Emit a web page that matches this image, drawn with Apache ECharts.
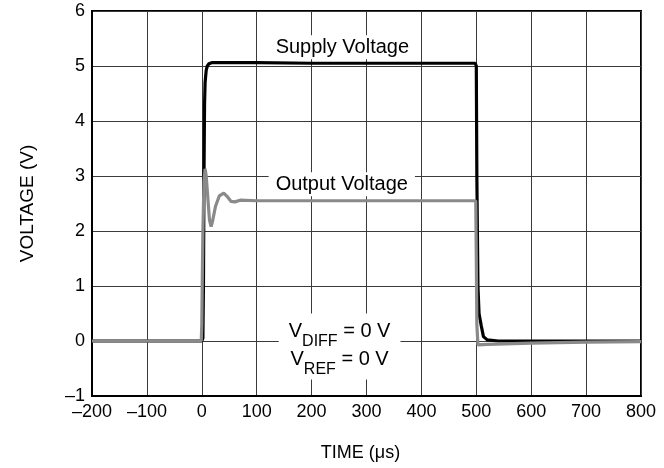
<!DOCTYPE html>
<html>
<head>
<meta charset="utf-8">
<script src="https://cdn.jsdelivr.net/npm/echarts@6/dist/echarts.min.js"></script>
<style>html,body{margin:0;padding:0;background:#fff}#c{width:664px;height:468px}</style>
</head>
<body>
<div id="c"></div>
<script>
// Time (µs) and voltage (V) samples
const supplyTime = [-200, 0, 2, 3, 4, 5, 6, 8, 10, 13, 18, 30, 100, 200, 300, 400, 498, 500, 501, 503, 505, 509, 513, 520, 540, 600, 700, 800];
const supplyVolt = [0, 0, 0.05, 1.0, 3.0, 4.3, 4.7, 4.92, 5.0, 5.04, 5.06, 5.06, 5.06, 5.05, 5.05, 5.05, 5.05, 5.0, 3.0, 1.0, 0.5, 0.28, 0.08, 0.02, 0, 0, 0, 0];
const outputTime = [-200, -1, 0, 1, 2, 4, 6, 8, 11, 14, 17, 20, 25, 32, 40, 46, 53, 60, 70, 100, 200, 300, 400, 499, 500, 501, 503, 505, 520, 600, 700, 800];
const outputVolt = [0, 0, 0.3, 1.2, 2.0, 2.9, 3.13, 3.0, 2.6, 2.2, 2.08, 2.2, 2.45, 2.64, 2.69, 2.63, 2.54, 2.53, 2.56, 2.55, 2.55, 2.55, 2.55, 2.55, 1.5, 0.3, -0.07, -0.07, -0.06, -0.04, -0.02, -0.01];
const xTicks = [-200, -100, 0, 100, 200, 300, 400, 500, 600, 700, 800];
const yTicks = [-1, 0, 1, 2, 3, 4, 5, 6];

const FONT = 'Liberation Sans, Arial, sans-serif';
const chart = echarts.init(document.getElementById('c'));
const fmt = v => String(v).replace('-', '\u2013');

const option = {
  animation: false,
  backgroundColor: '#fff',
  grid: { left: 92, right: 23, top: 11, bottom: 72, show: true, borderColor: '#000', borderWidth: 2, backgroundColor: 'transparent' },
  xAxis: {
    type: 'value', min: xTicks[0], max: xTicks[xTicks.length - 1], interval: 100,
    name: 'TIME (\u03BCs)', nameLocation: 'middle', nameGap: 48,
    nameTextStyle: { fontFamily: FONT, fontSize: 18, color: '#000', padding: [0, 12, 0, 0] },
    axisLine: { show: true, onZero: false, lineStyle: { color: '#000', width: 2 } },
    axisTick: { show: false },
    axisLabel: { formatter: fmt, fontFamily: FONT, fontSize: 18, color: '#000', margin: 7 },
    splitLine: { show: true, lineStyle: { color: '#3a3a3a', width: 1 } }
  },
  yAxis: {
    type: 'value', min: yTicks[0], max: yTicks[yTicks.length - 1], interval: 1,
    name: 'VOLTAGE (V)', nameLocation: 'middle', nameGap: 55, nameRotate: 90,
    nameTextStyle: { fontFamily: FONT, fontSize: 19, color: '#000' },
    axisLine: { show: true, onZero: false, lineStyle: { color: '#000', width: 2 } },
    axisTick: { show: false },
    axisLabel: { formatter: fmt, fontFamily: FONT, fontSize: 18, color: '#000', margin: 7 },
    splitLine: { show: true, lineStyle: { color: '#3a3a3a', width: 1 } }
  },
  series: [
    {
      name: 'Supply Voltage', type: 'line', showSymbol: false, smooth: false,
      data: supplyTime.map((t, i) => [t, supplyVolt[i]]),
      lineStyle: { color: '#000', width: 3.2 }, z: 3
    },
    {
      name: 'Output Voltage', type: 'line', showSymbol: false, smooth: false,
      data: outputTime.map((t, i) => [t, outputVolt[i]]),
      lineStyle: { color: '#8a8a8a', width: 3.2 }, z: 4
    }
  ]
};
chart.setOption(option);

function px(x, y) { return chart.convertToPixel({ gridIndex: 0 }, [x, y]); }
const pSup = px(256, 5.34);
const pOut = px(255, 2.85);
const pBox = px(251, -0.1);
const rich = {
  n: { fontFamily: FONT, fontSize: 20, color: '#000', lineHeight: 28 },
  s: { fontFamily: FONT, fontSize: 16, color: '#000', lineHeight: 28, verticalAlign: 'bottom', padding: [0, 0, -4, 0] }
};
chart.setOption({
  graphic: [
    { type: 'text', x: pSup[0], y: pSup[1], z: 10,
      style: { text: 'Supply Voltage', font: '20px ' + FONT, fill: '#000', align: 'center', verticalAlign: 'middle', backgroundColor: '#fff', padding: [2, 4] } },
    { type: 'text', x: pOut[0], y: pOut[1], z: 10,
      style: { text: 'Output Voltage', font: '20px ' + FONT, fill: '#000', align: 'center', verticalAlign: 'middle', backgroundColor: '#fff', padding: [2, 7] } },
    { type: 'text', x: pBox[0], y: pBox[1], z: 10,
      style: { text: '{n|V}{s|DIFF}{n| = 0 V}\n{n|V}{s|REF}{n| = 0 V}', rich: rich, align: 'center', verticalAlign: 'middle', backgroundColor: '#fff', padding: [4, 10, 6, 10] } }
  ]
});
</script>
</body>
</html>
